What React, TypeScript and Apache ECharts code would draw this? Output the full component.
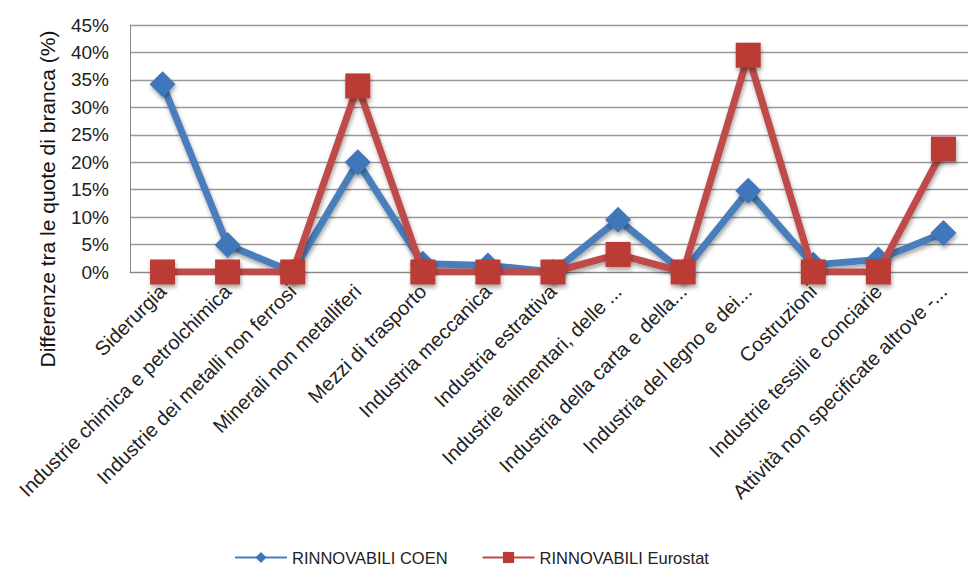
import React, { useEffect, useRef } from "react";
import * as echarts from "echarts";

const categories = [
  "Siderurgia",
  "Industrie chimica e petrolchimica",
  "Industrie dei metalli non ferrosi",
  "Minerali non metalliferi",
  "Mezzi di trasporto",
  "Industria meccanica",
  "Industria estrattiva",
  "Industrie alimentari, delle ...",
  "Industria della carta e della...",
  "Industria del legno e dei...",
  "Costruzioni",
  "Industrie tessili e conciarie",
  "Attività non specificate altrove -...",
];

const coen = [34.2, 4.9, 0, 20.0, 1.5, 1.2, 0, 9.5, 0, 14.8, 1.3, 2.3, 7.1];
const eurostat = [0, 0, 0, 33.9, 0, 0, 0, 3.2, 0, 39.5, 0, 0, 22.4];

const yTicks = [0, 5, 10, 15, 20, 25, 30, 35, 40, 45];
const yTitle = "Differenze tra le quote di branca (%)";

const FONT = "Liberation Sans";

export default function App() {
  const ref = useRef<HTMLDivElement>(null);
  useEffect(() => {
    if (!ref.current) return;
    const chart = echarts.init(ref.current, null, { renderer: "svg" });
    const shadow = {
      shadowColor: "rgba(0,0,0,0.35)",
      shadowBlur: 4,
      shadowOffsetX: 1,
      shadowOffsetY: 3,
    };
    chart.setOption({
      animation: false,
      backgroundColor: "#ffffff",
      grid: { left: 130, top: 25, right: 0, bottom: 296, containLabel: false },
      legend: {
        bottom: -3,
        left: 229,
        itemWidth: 52,
        itemHeight: 14,
        itemGap: 34,
        textStyle: { fontFamily: FONT, fontSize: 16.5, color: "#222" },
        data: ["RINNOVABILI COEN", "RINNOVABILI Eurostat"],
      },
      graphic: [
        {
          type: "text",
          x: 47,
          y: 199,
          rotation: Math.PI / 2,
          style: {
            text: yTitle,
            font: `21px "${FONT}"`,
            fill: "#111",
            align: "center",
            verticalAlign: "middle",
          },
        },
      ],
      xAxis: {
        type: "category",
        data: categories,
        boundaryGap: true,
        axisLine: { show: true, lineStyle: { color: "#888", width: 1 } },
        axisTick: { show: false },
        axisLabel: {
          interval: 0,
          rotate: 45,
          margin: 16,
          fontFamily: FONT,
          fontSize: 20,
          color: "#222",
        },
      },
      yAxis: {
        type: "value",
        min: 0,
        max: 45,
        interval: 5,
        axisLine: { show: true, lineStyle: { color: "#888", width: 1 } },
        axisTick: { show: false },
        splitLine: { show: true, lineStyle: { color: "#999", width: 1.3 } },
        axisLabel: {
          fontFamily: FONT,
          fontSize: 19,
          color: "#222",
          margin: 21,
          formatter: (v: number) => (yTicks.includes(v) ? `${v}%` : ""),
        },
      },
      series: [
        {
          name: "RINNOVABILI COEN",
          type: "line",
          data: coen,
          symbol: "diamond",
          symbolSize: 26,
          lineStyle: { color: "#4A7EBB", width: 7, ...shadow },
          itemStyle: { color: "#3F76BA", ...shadow },
          z: 2,
        },
        {
          name: "RINNOVABILI Eurostat",
          type: "line",
          data: eurostat,
          symbol: "rect",
          symbolSize: 25,
          lineStyle: { color: "#BE4B48", width: 7, ...shadow },
          itemStyle: { color: "#BB3A36", ...shadow },
          z: 3,
        },
      ],
    });
    return () => chart.dispose();
  }, []);
  return (
    <div
      style={{
        position: "absolute",
        left: 0,
        top: 0,
        width: 968,
        height: 568,
        overflow: "hidden",
        background: "#fff",
      }}
    >
      <div ref={ref} style={{ width: 976, height: 568 }} />
    </div>
  );
}
